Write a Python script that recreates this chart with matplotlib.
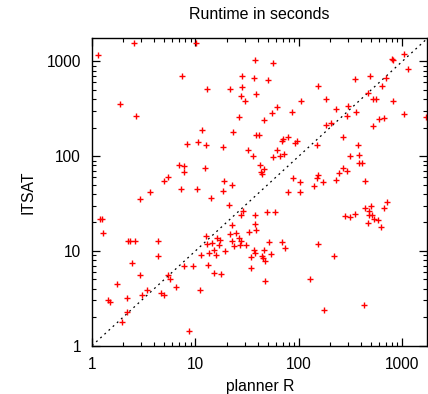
import matplotlib
matplotlib.use("Agg")
import matplotlib.pyplot as plt
import numpy as np
from matplotlib.ticker import LogLocator, FixedLocator, NullFormatter

plt.rcParams['font.family'] = ['Liberation Sans', 'DejaVu Sans']

# runtime (s) of planner R vs ITSAT, per problem
planner_r = [
    1.14, 2.53, 10.1, 7.39, 1.86, 2.64, 11.45, 10.7, 8.2, 6.87, 7.68, 7.68, 5.45, 4.92, 7.23, 10.4,
    38.0, 55.9, 28.1, 37.2, 50.8, 12.9, 21.8, 28.1, 27.9, 38.3, 30.2, 104.8, 61.4, 55.5, 85.2, 26.4,
    46.0, 23.0, 38.5, 40.9, 70.2, 78.0, 68.7, 96.7, 91.1, 12.6, 18.5, 32.6, 61.4, 36.1, 56.2, 66.3,
    72.4, 12.4, 42.5, 46.0, 42.8, 43.7, 87.1, 102.5, 18.7, 22.6, 139,
    792, 822, 1043, 1130, 348, 486, 693, 634, 153, 464, 527, 555, 817, 185, 302, 228, 356, 291,
    1050, 1686, 593, 673, 203, 185, 519, 267, 151, 375, 311, 378, 384, 406, 265, 242, 294, 152,
    150, 171, 228, 435,
    3.63, 2.93, 1.19, 1.24, 1.28, 2.24, 2.33, 2.58, 4.36, 4.31, 11.3, 2.42, 7.78, 9.38, 2.93, 5.45,
    5.62, 1.74, 6.51, 3.37, 3.02, 4.60, 4.92, 11.0, 1.43, 1.50, 2.16, 2.19, 1.95, 8.64,
    18.5, 78.5, 102.5, 14.2, 21.1, 27.9, 28.9, 37.4, 49.2, 59.3, 22.8, 38.0, 38.5, 32.8, 12.7, 21.5,
    24.5, 16.3, 26.4, 17.2, 22.8, 27.9, 13.0, 14.5, 16.8, 23.8, 26.7, 30.6, 51.4, 69.3, 73.4, 36.9,
    37.4, 45.7, 15.2, 19.4, 13.6, 15.7, 34.8, 44.4, 45.0, 53.8, 47.5, 13.3, 34.2, 15.0, 17.7, 47.5,
    128,
    715, 504, 432, 663, 482, 353, 277, 311, 472, 512, 539, 585, 464, 620, 153, 218, 429, 177,
]
itsat = [
    1174, 1560, 1560, 710, 357, 265, 191, 142, 134, 80.4, 78.4, 68.3, 60, 54.8, 44.6, 44.6,
    1032, 967, 700, 676, 635, 510, 514, 535, 433, 455, 381, 384, 329, 285, 289, 260,
    238, 179, 169, 167, 151, 159, 144, 144, 137, 132, 124, 115, 117, 101, 97.6, 100,
    106, 75.8, 80.4, 72.9, 67.8, 64.6, 59.4, 53.5, 55.3, 49.8, 48.6,
    1073, 1047, 1183, 829, 655, 705, 676, 553, 549, 469, 406, 403, 381, 403, 340, 314, 289, 268,
    280, 256, 246, 254, 225, 212, 210, 159, 132, 131, 100, 102, 84.4, 85, 74.7, 67.1, 69.4, 63.9,
    58.6, 53.9, 55.8, 54.8,
    41.7, 35.4, 21.9, 21.6, 15.5, 12.85, 12.66, 12.85, 12.75, 8.92, 9.07, 7.47, 6.89, 6.89, 5.58, 5.58,
    5.10, 4.52, 4.20, 3.85, 3.46, 3.58, 3.46, 3.85, 3.04, 2.87, 3.17, 2.29, 1.77, 1.42,
    42.7, 42.3, 42.3, 36.5, 30.6, 24.0, 26.3, 24.0, 26.0, 25.6, 18.7, 19.1, 16.5, 15.8, 14.5, 15.2,
    15.4, 13.6, 13.6, 13.0, 12.85, 12.66, 11.85, 12.15, 11.57, 11.3, 11.65, 11.57, 12.36, 12.36, 10.8, 10.3,
    9.60, 10.3, 10.2, 9.93, 9.60, 9.14, 8.71, 8.86, 8.50, 9.37, 7.84, 7.17, 6.62, 5.90, 5.76, 4.82,
    5.06,
    32.7, 29.9, 28.2, 28.2, 26.3, 24.6, 23.2, 22.7, 24.2, 23.8, 21.6, 21.4, 19.6, 17.9, 11.8, 8.86, 2.67, 2.36,
]

lo, hi = 1, 1750
tick_vals = [1, 10, 100, 1000]

fig = plt.figure(figsize=(4.28, 3.94), dpi=100)
ax = fig.add_axes([0.215, 0.1226, 0.7835, 0.780])

ax.plot([lo, hi], [lo, hi], color="black", linestyle=(0, (1.5, 3)), linewidth=0.9)
ax.plot(planner_r, itsat, '+', color="red", markersize=5, markeredgewidth=1.0)

ax.set_xscale("log")
ax.set_yscale("log")
ax.set_xlim(lo, hi)
ax.set_ylim(lo, hi)

for axis in (ax.xaxis, ax.yaxis):
    axis.set_major_locator(FixedLocator(tick_vals))
    axis.set_minor_locator(LogLocator(base=10, subs=np.arange(2, 10)))
    axis.set_minor_formatter(NullFormatter())
ax.set_xticklabels([str(v) for v in tick_vals])
ax.set_yticklabels([str(v) for v in tick_vals])

ax.tick_params(which="both", direction="in", top=True, right=True, labelsize=11.2)
ax.tick_params(which="major", length=6, width=0.9, pad=8)
ax.tick_params(which="minor", length=3, width=0.8)
for s in ax.spines.values():
    s.set_linewidth(1.0)

ax.set_title("Runtime in seconds", fontsize=11.5, pad=14)
ax.set_xlabel("planner R", fontsize=11.3, labelpad=5)
ax.set_ylabel("ITSAT", fontsize=11.3, labelpad=8)

fig.savefig("out.png", dpi=100)
